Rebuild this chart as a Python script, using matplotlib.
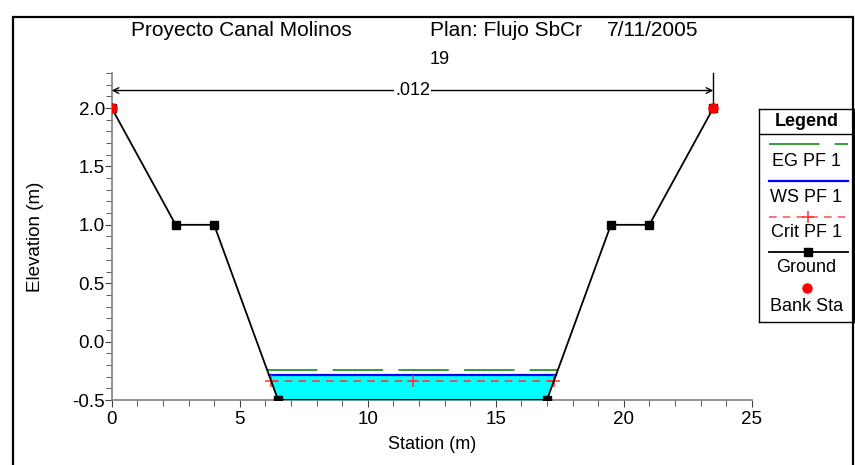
import numpy as np
import matplotlib.pyplot as plt
from matplotlib.patches import Rectangle
from matplotlib.ticker import MultipleLocator

plt.rcParams['font.family'] = ['Liberation Sans', 'DejaVu Sans']

# cross section data
station = [0, 2.5, 4, 6.5, 17, 19.5, 21, 23.5]
ground = [2.0, 1.0, 1.0, -0.5, -0.5, 1.0, 1.0, 2.0]
bank_sta = [0, 23.5]
bank_elev = [2.0, 2.0]
eg_pf1 = -0.243
ws_pf1 = -0.286
crit_pf1 = -0.335
n_value = '.012'
title_left = 'Proyecto Canal Molinos'
title_plan = 'Plan: Flujo SbCr'
title_date = '7/11/2005'
river_sta = '19'


def wet_edges(elev):
    # where a water surface meets the left and right channel slopes
    xl = np.interp(elev, [ground[3], ground[2]], [station[3], station[2]])
    xr = np.interp(elev, [ground[4], ground[5]], [station[4], station[5]])
    return xl, xr


fig = plt.figure(figsize=(8.55, 4.65), dpi=100)
W, H = 855, 465
ax = fig.add_axes([111.7 / W, 1 - 400 / H, 640 / W, 327 / H])

gray = '#808080'

# water fill
xl, xr = wet_edges(ws_pf1)
xs = np.linspace(xl, xr, 200)
ax.fill_between(xs, np.interp(xs, station, ground), ws_pf1, color='#00ffff', lw=0, zorder=1)

x0, x1 = wet_edges(eg_pf1)
ax.plot([x0, x1], [eg_pf1, eg_pf1], color='#008000', lw=1.1, dashes=(33, 10), zorder=3)
x0, x1 = wet_edges(ws_pf1)
ax.plot([x0, x1], [ws_pf1, ws_pf1], color='#0000ff', lw=1.6, zorder=3)
x0, x1 = wet_edges(crit_pf1)
ax.plot([x0, x1], [crit_pf1, crit_pf1], color='#ff3030', lw=1.1, dashes=(5, 4), zorder=3)
ax.plot([x0, (x0 + x1) / 2, x1], [crit_pf1] * 3, ls='none', marker='+', ms=8,
        mew=1.1, color='#ff3030', zorder=3)

ax.plot(station, ground, color='black', lw=1.3, marker='s', ms=5.5, zorder=4)
ax.plot(bank_sta, bank_elev, ls='none', marker='o', ms=6.5, color='red', zorder=5)

# n value dimension line
ax.plot([bank_sta[1], bank_sta[1]], [2.0, 2.3], color='black', lw=1, zorder=4, clip_on=False)
ax.annotate('', xy=(bank_sta[0], 2.15), xytext=(bank_sta[1], 2.15),
            arrowprops=dict(arrowstyle='<->', color='black', lw=1, shrinkA=0, shrinkB=0))
ax.text((bank_sta[0] + bank_sta[1]) / 2, 2.15, n_value, ha='center', va='center', fontsize=13,
        bbox=dict(facecolor='white', edgecolor='none', pad=1), zorder=6)

ax.set_xlim(0, 25)
ax.set_ylim(-0.5, 2.3)
ax.set_xticks([0, 5, 10, 15, 20, 25])
ax.set_yticks([-0.5, 0.0, 0.5, 1.0, 1.5, 2.0])
ax.set_yticklabels(['-0.5', '0.0', '0.5', '1.0', '1.5', '2.0'])
ax.xaxis.set_minor_locator(MultipleLocator(1))
ax.yaxis.set_minor_locator(MultipleLocator(0.1))
for s in ['top', 'right']:
    ax.spines[s].set_visible(False)
for s in ['left', 'bottom']:
    ax.spines[s].set_color(gray)
    ax.spines[s].set_linewidth(1.2)
ax.tick_params(which='major', length=5, color='#404040', labelsize=13.5)
ax.tick_params(which='minor', length=4, color='#404040')
ax.tick_params(axis='y', pad=0)
ax.tick_params(axis='x', pad=3)
ax.set_xlabel('Station (m)', fontsize=13, labelpad=6)
ax.set_ylabel('Elevation (m)', fontsize=13.5, labelpad=20)

# titles
fig.text(131 / W, 1 - 31 / H, title_left, fontsize=15, va='center')
fig.text(430 / W, 1 - 31 / H, title_plan, fontsize=15, va='center')
fig.text(607 / W, 1 - 31 / H, title_date, fontsize=15, va='center')
fig.text(430 / W, 1 - 60 / H, river_sta, fontsize=13, va='center')

# outer frame
fig.patches.append(Rectangle((13 / W, -0.1), 840 / W, 1.1 - 17 / H, transform=fig.transFigure,
                             fill=False, edgecolor='black', lw=1.6))

# legend box
lg = fig.add_axes([759 / W, 1 - 322 / H, 95 / W, 213 / H])
lg.set_xlim(0, 95)
lg.set_ylim(213, 0)
lg.set_xticks([])
lg.set_yticks([])
for s in lg.spines.values():
    s.set_linewidth(1)
fs = 13
lg.text(47.5, 12, 'Legend', ha='center', va='center', fontsize=fs, fontweight='bold')
lg.plot([0, 95], [25, 25], color='black', lw=1)
lg.plot([10, 89], [35, 35], color='#008000', lw=1.1, dashes=(33, 10))
lg.text(47.5, 53, 'EG PF 1', ha='center', va='center', fontsize=fs)
lg.plot([10, 89], [72, 72], color='#0000ff', lw=1.6)
lg.text(47.5, 89, 'WS PF 1', ha='center', va='center', fontsize=fs)
lg.plot([10, 89], [108, 108], color='#ff5050', lw=1.1, dashes=(5, 4))
lg.plot([49], [108], marker='+', ms=8, mew=1.1, color='#ff3030')
lg.text(47.5, 123, 'Crit PF 1', ha='center', va='center', fontsize=fs)
lg.plot([10, 89], [143, 143], color='black', lw=1.3)
lg.plot([49], [143], marker='s', ms=5.5, color='black')
lg.text(47.5, 159, 'Ground', ha='center', va='center', fontsize=fs)
lg.plot([47.5], [179], marker='o', ms=6.5, color='red')
lg.text(47.5, 197, 'Bank Sta', ha='center', va='center', fontsize=fs)

fig.savefig('out.png', dpi=100)
